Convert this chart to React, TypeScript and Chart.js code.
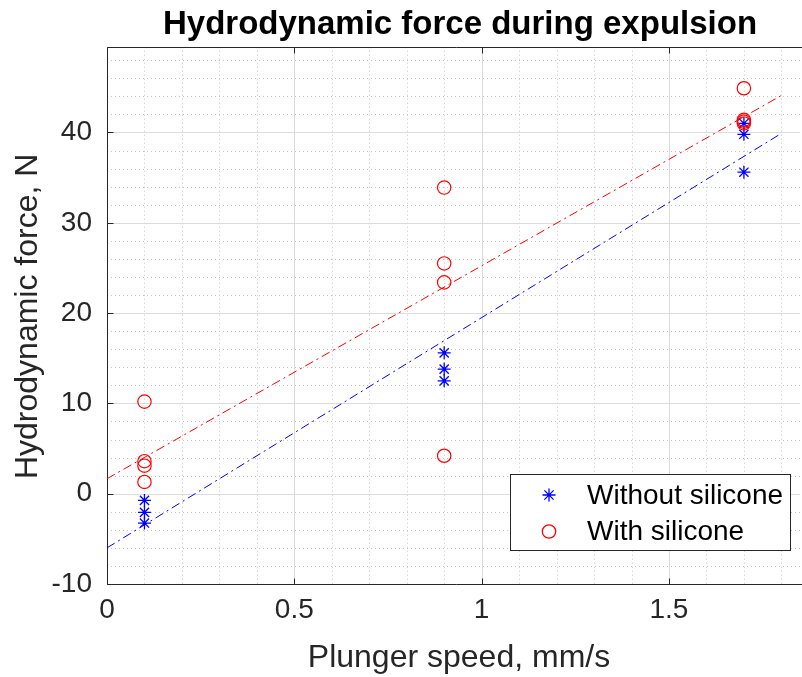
import React, { useEffect, useRef } from "react";
import { Chart, registerables } from "chart.js";
Chart.register(...registerables);

// ---- data ----
const xWithout = [0.1, 0.1, 0.1, 0.9, 0.9, 0.9, 1.7, 1.7, 1.7];
const yWithout = [-0.74, -2.07, -3.25, 15.6, 13.8, 12.5, 41.0, 39.8, 35.6];
const xWith = [0.1, 0.1, 0.1, 0.1, 0.9, 0.9, 0.9, 0.9, 1.7, 1.7, 1.7, 1.7];
const yWith = [10.2, 3.6, 3.1, 1.3, 33.9, 25.5, 23.4, 4.2, 44.9, 41.4, 41.2, 41.0];
const fitX = [0, 1.8];
const fitWithout = [-6.0, 39.9];
const fitWith = [1.66, 44.1];
const xTicks = [0, 0.5, 1, 1.5];
const yTicks = [-10, 0, 10, 20, 30, 40];
const seriesNames = ["Without silicone", "With silicone"];
const titleText = "Hydrodynamic force during expulsion";
const xTitle = "Plunger speed, mm/s";
const yTitle = "Hydrodynamic force, N";

const FONT = "'Liberation Sans', Arial, Helvetica, sans-serif";
const AX = "#262626";

const pts = (xs: number[], ys: number[]) => xs.map((x, i) => ({ x, y: ys[i] }));

const decorPlugin = {
  id: "decor",
  beforeDatasetsDraw(chart: any) {
    const { ctx, chartArea: a, scales } = chart;
    const xs = scales.x, ys = scales.y;
    ctx.save();
    ctx.beginPath();
    ctx.rect(a.left, a.top, a.right - a.left, a.bottom - a.top);
    ctx.clip();
    // minor grid (dotted)
    ctx.strokeStyle = "#c4c4c4";
    ctx.lineWidth = 1;
    ctx.setLineDash([1, 3]);
    for (let k = 1; k < 19; k++) {
      if (k % 5 === 0) continue;
      const px = Math.round(xs.getPixelForValue(k / 10)) + 0.5;
      ctx.beginPath(); ctx.moveTo(px, a.top); ctx.lineTo(px, a.bottom); ctx.stroke();
    }
    for (let v = -8; v < 50; v += 2) {
      if (v % 10 === 0) continue;
      const py = Math.round(ys.getPixelForValue(v)) + 0.5;
      ctx.beginPath(); ctx.moveTo(a.left, py); ctx.lineTo(a.right, py); ctx.stroke();
    }
    // major grid
    ctx.setLineDash([]);
    ctx.strokeStyle = "#dcdcdc";
    xTicks.forEach((v) => {
      const px = Math.round(xs.getPixelForValue(v)) + 0.5;
      ctx.beginPath(); ctx.moveTo(px, a.top); ctx.lineTo(px, a.bottom); ctx.stroke();
    });
    yTicks.forEach((v) => {
      const py = Math.round(ys.getPixelForValue(v)) + 0.5;
      ctx.beginPath(); ctx.moveTo(a.left, py); ctx.lineTo(a.right, py); ctx.stroke();
    });
    ctx.restore();
    // axes box
    ctx.save();
    ctx.strokeStyle = AX;
    ctx.lineWidth = 1;
    const L = Math.round(a.left) + 0.5, B = Math.round(a.bottom) + 0.5, T = Math.round(a.top) + 0.5;
    ctx.beginPath();
    ctx.moveTo(a.right + 5, T); ctx.lineTo(L, T); ctx.lineTo(L, B); ctx.lineTo(a.right + 5, B);
    ctx.stroke();
    // inward ticks
    yTicks.forEach((v) => {
      const py = Math.round(ys.getPixelForValue(v)) + 0.5;
      ctx.beginPath(); ctx.moveTo(L, py); ctx.lineTo(L + 6, py); ctx.stroke();
    });
    xTicks.forEach((v) => {
      const px = Math.round(xs.getPixelForValue(v)) + 0.5;
      ctx.beginPath(); ctx.moveTo(px, B); ctx.lineTo(px, B - 6); ctx.stroke();
      ctx.beginPath(); ctx.moveTo(px, T); ctx.lineTo(px, T + 6); ctx.stroke();
    });
    ctx.restore();
  },
  afterDraw(chart: any) {
    const { ctx, chartArea: a } = chart;
    ctx.save();
    // title
    ctx.fillStyle = "#000";
    ctx.font = `bold 33px ${FONT}`;
    ctx.textAlign = "center";
    ctx.textBaseline = "alphabetic";
    ctx.fillText(titleText, 460, 34);
    // axis titles
    ctx.fillStyle = AX;
    ctx.font = `32px ${FONT}`;
    ctx.fillText(xTitle, 459, 667);
    ctx.save();
    ctx.translate(37, (a.top + a.bottom) / 2 + 1);
    ctx.rotate(-Math.PI / 2);
    ctx.fillText(yTitle, 0, 0);
    ctx.restore();
    // legend
    const lx = 510.5, ly = 474.5, lw = 280, lh = 76;
    ctx.fillStyle = "#ffffff";
    ctx.fillRect(lx, ly, lw, lh);
    ctx.strokeStyle = AX;
    ctx.lineWidth = 1;
    ctx.strokeRect(lx, ly, lw, lh);
    ctx.font = `28px ${FONT}`;
    ctx.textAlign = "left";
    ctx.textBaseline = "middle";
    ctx.fillStyle = "#000";
    ctx.fillText(seriesNames[0], 587, 496);
    ctx.fillText(seriesNames[1], 587, 532);
    ctx.restore();
    // legend markers
    ctx.save();
    ctx.strokeStyle = "#0000ff";
    ctx.lineWidth = 1.3;
    const drawStar = (cx: number, cy: number, r: number) => {
      ctx.beginPath();
      ctx.moveTo(cx, cy - r); ctx.lineTo(cx, cy + r);
      ctx.moveTo(cx - r, cy); ctx.lineTo(cx + r, cy);
      const d = r * Math.SQRT1_2;
      ctx.moveTo(cx - d, cy - d); ctx.lineTo(cx + d, cy + d);
      ctx.moveTo(cx - d, cy + d); ctx.lineTo(cx + d, cy - d);
      ctx.stroke();
    };
    drawStar(549, 495, 6.5);
    ctx.strokeStyle = "#ff0000";
    ctx.beginPath();
    ctx.arc(549, 531.5, 6.7, 0, Math.PI * 2);
    ctx.stroke();
    ctx.restore();
  },
};

export default function App() {
  const ref = useRef<HTMLCanvasElement | null>(null);
  useEffect(() => {
    if (!ref.current) return;
    const chart = new Chart(ref.current, {
      type: "scatter",
      data: {
        datasets: [
          {
            label: "fitWithout",
            data: pts(fitX, fitWithout),
            showLine: true,
            pointRadius: 0,
            borderColor: "#0000ff",
            borderWidth: 1,
            borderDash: [9, 4, 2, 4],
            order: 3,
          },
          {
            label: "fitWith",
            data: pts(fitX, fitWith),
            showLine: true,
            pointRadius: 0,
            borderColor: "#ff0000",
            borderWidth: 1,
            borderDash: [9, 4, 2, 4],
            order: 2,
          },
          {
            label: seriesNames[0],
            data: pts(xWithout, yWithout),
            pointStyle: "star",
            pointRadius: 6.5,
            borderColor: "#0000ff",
            backgroundColor: "#0000ff",
            pointBorderWidth: 1.3,
            order: 1,
          },
          {
            label: seriesNames[1],
            data: pts(xWith, yWith),
            pointStyle: "circle",
            pointRadius: 6.7,
            borderColor: "#ff0000",
            backgroundColor: "rgba(0,0,0,0)",
            pointBorderWidth: 1.2,
            order: 0,
          },
        ],
      },
      options: {
        responsive: false,
        animation: false,
        devicePixelRatio: 1,
        layout: { padding: { top: 46.7, left: 0, right: 0, bottom: 0 } },
        plugins: {
          legend: { display: false },
          tooltip: { enabled: false },
          title: { display: false },
        },
        scales: {
          x: {
            type: "linear",
            min: 0,
            max: 1.85,
            grid: { display: false },
            border: { display: false },
            ticks: {
              color: AX,
              font: { family: FONT, size: 28 },
              padding: 1,
              callback: (v: any) => String(v),
            },
            afterBuildTicks: (s: any) => {
              s.ticks = xTicks.map((v) => ({ value: v }));
            },
            afterFit: (s: any) => {
              s.height = 93;
            },
          },
          y: {
            type: "linear",
            min: -10,
            max: 49.5,
            grid: { display: false },
            border: { display: false },
            ticks: {
              color: AX,
              font: { family: FONT, size: 28 },
              padding: 7,
              callback: (v: any) => String(v),
            },
            afterBuildTicks: (s: any) => {
              s.ticks = yTicks.map((v) => ({ value: v }));
            },
            afterFit: (s: any) => {
              s.width = 107;
            },
          },
        },
      },
      plugins: [decorPlugin],
    });
    return () => chart.destroy();
  }, []);
  return (
    <div style={{ position: "fixed", left: 0, top: 0, width: 802, height: 677, overflow: "hidden", background: "#fff" }}>
      <canvas ref={ref} width={808} height={677} style={{ display: "block" }} />
    </div>
  );
}
